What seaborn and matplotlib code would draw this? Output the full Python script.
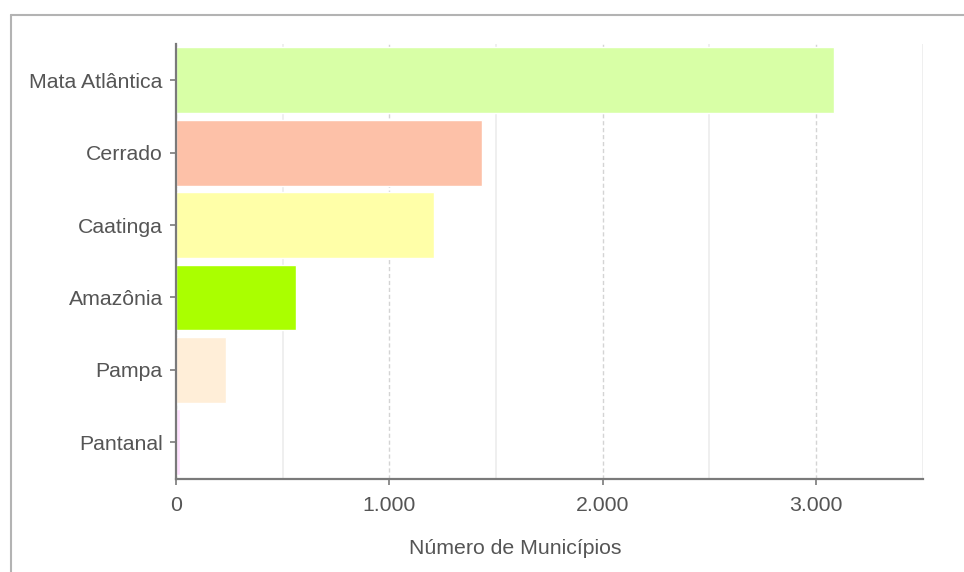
import numpy as np
import pandas as pd
import matplotlib
matplotlib.use("Agg")
import matplotlib.pyplot as plt
from matplotlib.lines import Line2D
from matplotlib.ticker import FixedLocator, FuncFormatter
import seaborn as sns

# data
biomas = ["Mata Atlântica", "Cerrado", "Caatinga", "Amazônia", "Pampa", "Pantanal"]
municipios = [3085, 1434, 1209, 563, 234, 21]
cores = ["#d8ffa6", "#fdc1a8", "#ffffa8", "#aaff00", "#ffeed8", "#ffe0ff"]

df = pd.DataFrame({"bioma": biomas, "n": municipios})

sns.set_theme(style="white")
plt.rcParams["font.family"] = ["Liberation Sans", "DejaVu Sans"]

TXT = "#555555"
AXC = "#7a7a7a"

fig = plt.figure(figsize=(9.64, 5.72), dpi=100)
ax = fig.add_axes([176 / 964, 1 - 478.5 / 572, 746.7 / 964, 434.5 / 572])

sns.barplot(data=df, x="n", y="bioma", hue="bioma", palette=cores,
            orient="h", width=0.91, legend=False, saturation=1, ax=ax)

ax.set_xlim(0, 3500)
ax.set_ylim(5.5, -0.5)

# grid: dashed at thousands, light solid at the halves
ax.xaxis.set_major_locator(FixedLocator([0, 1000, 2000, 3000]))
ax.xaxis.set_minor_locator(FixedLocator([500, 1500, 2500, 3500]))
ax.xaxis.set_major_formatter(FuncFormatter(lambda v, p: f"{int(v):,}".replace(",", ".")))
ax.grid(axis="x", which="major", color="#d4d4d4", linestyle=(0, (3, 2)), linewidth=1)
ax.grid(axis="x", which="minor", color="#ececec", linestyle="-", linewidth=1.2)
ax.set_axisbelow(True)

for s in ["top", "right"]:
    ax.spines[s].set_visible(False)
for s in ["left", "bottom"]:
    ax.spines[s].set_color(AXC)
    ax.spines[s].set_linewidth(1.6)

ax.tick_params(axis="y", length=4, width=1.2, color=AXC, pad=5.5,
               labelsize=15.3, labelcolor=TXT, left=True)
ax.tick_params(axis="x", which="major", length=4.5, width=1.2, color=AXC, pad=8,
               labelsize=15.3, labelcolor=TXT, bottom=True)
ax.tick_params(axis="x", which="minor", length=0)

ax.set_ylabel("")
ax.set_xlabel("Número de Municípios", fontsize=15.3, color=TXT)
ax.xaxis.set_label_coords(0.455, -0.1605)
ax.xaxis.label.set_va("center")

# card border (cropped at right and bottom)
fig.add_artist(Line2D([10.5 / 964, 1], [1 - 14.5 / 572, 1 - 14.5 / 572],
                      transform=fig.transFigure, color="#b3b3b3", linewidth=1.5))
fig.add_artist(Line2D([10.5 / 964, 10.5 / 964], [0, 1 - 14.5 / 572],
                      transform=fig.transFigure, color="#b3b3b3", linewidth=1.5))

fig.savefig("out.png", dpi=100)
plt.close(fig)
